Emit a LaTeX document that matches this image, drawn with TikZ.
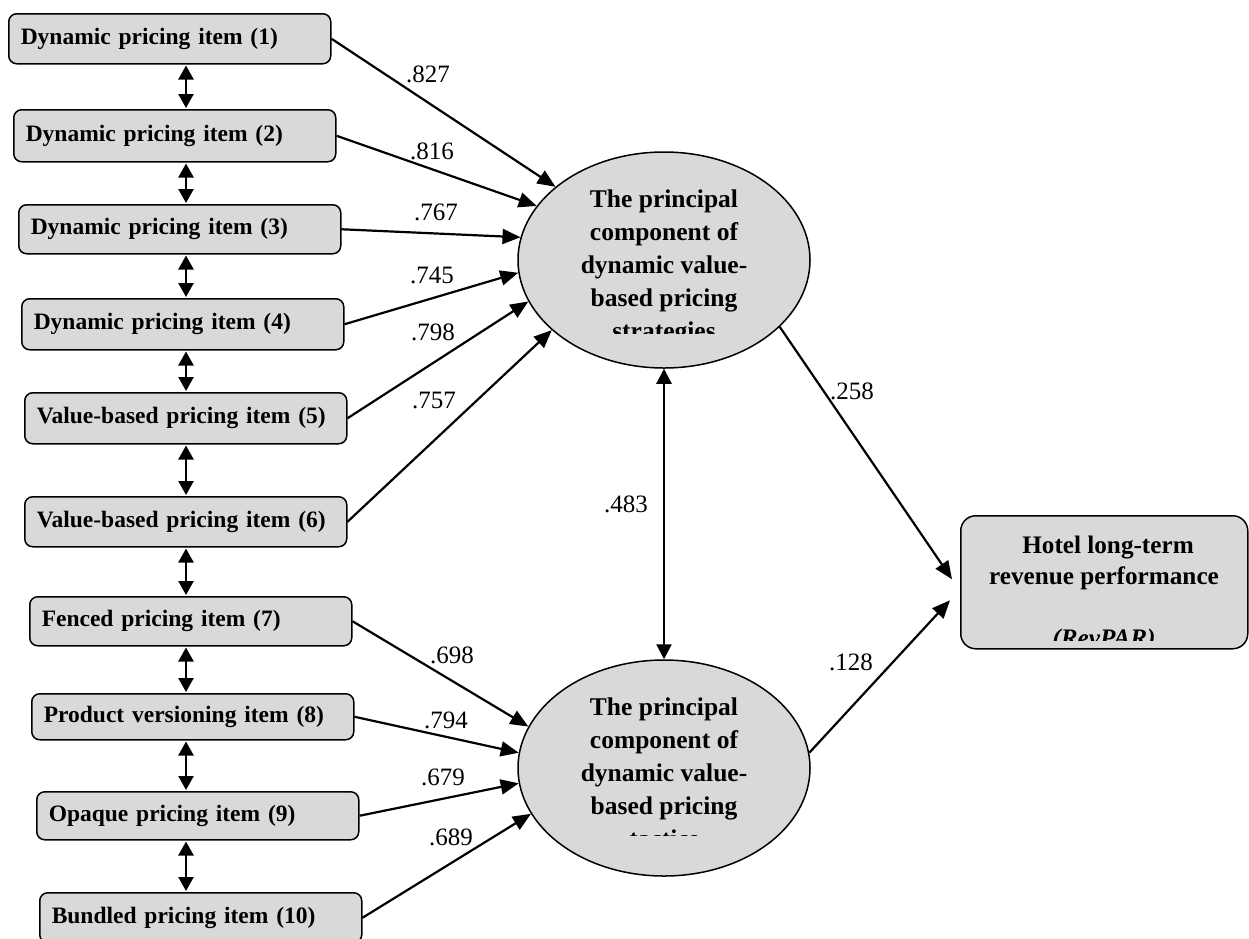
\documentclass[tikz,border=0pt]{standalone}
\usepackage{fontspec}
\setmainfont{Liberation Serif}
\usetikzlibrary{arrows.meta,shapes.geometric,calc}
\definecolor{boxgray}{HTML}{D9D9D9}
\tikzset{
 itembox/.style={draw, fill=boxgray, line width=1.5pt, rounded corners=8pt, minimum width=322pt, text width=298pt, inner xsep=12pt, inner ysep=0pt, align=left, anchor=north west, font=\fontsize{23.5}{28}\selectfont\bfseries},
 construct/.style={draw, fill=boxgray, ellipse, line width=1.5pt, minimum width=292pt, minimum height=216pt, inner sep=0pt},
 outcome/.style={draw, fill=boxgray, rounded corners=15pt, line width=1.5pt, minimum width=287pt, minimum height=133pt, inner sep=0pt, anchor=north west},
 eltext/.style={anchor=base, inner sep=0pt, font=\fontsize{25.5}{30}\selectfont\bfseries},
 hbtext/.style={anchor=base, inner sep=0pt, font=\fontsize{25.2}{30}\selectfont\bfseries},
 coef/.style={inner sep=0pt, font=\fontsize{25}{30}\selectfont},
 loadarrow/.style={line width=2.2pt, -{Triangle[length=18pt,width=15pt]}},
 corrarrow/.style={line width=2.4pt, {Triangle[length=14pt,width=15pt]}-{Triangle[length=14pt,width=15pt]}, shorten <=1pt, shorten >=1pt},
 bigcorr/.style={line width=2.2pt, {Triangle[length=15pt,width=15pt]}-{Triangle[length=15pt,width=15pt]}},
}
\begin{document}
\begin{tikzpicture}[x=1pt,y=-1pt]
\useasboundingbox (0,0) rectangle (1249,938);
\clip (0,0) rectangle (1249,938);

% indicator boxes
\node[itembox, minimum height=50pt] (b1) at (8,13) {Dynamic pricing item (1)};
\node[itembox, minimum height=52pt] (b2) at (13,109) {Dynamic pricing item (2)};
\node[itembox, minimum height=49pt] (b3) at (18,204) {Dynamic pricing item (3)};
\node[itembox, minimum height=51pt] (b4) at (21,298) {Dynamic pricing item (4)};
\node[itembox, minimum height=51pt] (b5) at (24,392) {Value-based pricing item (5)};
\node[itembox, minimum height=50pt] (b6) at (24,496) {Value-based pricing item (6)};
\node[itembox, minimum height=49pt] (b7) at (29,596) {Fenced pricing item (7)};
\node[itembox, minimum height=46pt] (b8) at (31,693) {Product versioning item (8)};
\node[itembox, minimum height=48pt] (b9) at (36,791) {Opaque pricing item (9)};
\node[itembox, minimum height=50pt] (b10) at (39,892) {Bundled pricing item (10)};

% correlations between indicators
\coordinate (ax) at (186,0);
\foreach \a/\b in {b1/b2,b2/b3,b3/b4,b4/b5,b5/b6,b6/b7,b7/b8,b8/b9,b9/b10}
  \draw[corrarrow] (\a.south -| ax) -- (\b.north -| ax);

% constructs
\node[construct] (e1) at (664,260) {};
\node[construct] (e2) at (664,768) {};
\node[outcome] (hb) at (960,515) {};

\begin{scope}
\clip (520,150) rectangle (810,333);
\node[eltext] (e1a) at (664,207) {The principal};
\node[eltext] (e1b) at (664,240) {component of};
\node[eltext] (e1c) at (664,273) {dynamic value-};
\node[eltext] (e1d) at (664,306) {based pricing};
\node[eltext] (e1e) at (664,339) {strategies};
\end{scope}

\begin{scope}
\clip (520,660) rectangle (810,835.5);
\node[eltext] (e2a) at (664,715) {The principal};
\node[eltext] (e2b) at (664,748) {component of};
\node[eltext] (e2c) at (664,781) {dynamic value-};
\node[eltext] (e2d) at (664,814) {based pricing};
\node[eltext] (e2e) at (664,847) {tactics};
\end{scope}

\begin{scope}
\clip (962,517) rectangle (1245,640);
\node[hbtext] (hba) at (1108,553) {Hotel long-term};
\node[hbtext] (hbb) at (1104,584) {revenue performance};
\node[hbtext, font=\fontsize{25.2}{30}\selectfont\bfseries\itshape] (hbc) at (1104,646) {(RevPAR)};
\end{scope}

% loadings
\draw[loadarrow] (b1.east) -- (e1.146);
\draw[loadarrow] (b2.east) -- (e1.157);
\draw[loadarrow] (b3.east) -- (e1.171);
\draw[loadarrow] (b4.east) -- (e1.185);
\draw[loadarrow] (b5.east) -- (e1.197);
\draw[loadarrow] (b6.east) -- (e1.212);
\draw[loadarrow] (b7.east) -- (e2.163);
\draw[loadarrow] (b8.east) -- (e2.174);
\draw[loadarrow] (b9.east) -- (e2.186);
\draw[loadarrow] (b10.east) -- (e2.199);

% structural paths
\draw[bigcorr] (e1.south) -- (e2.north);
\draw[loadarrow] (e1.-30) -- ($(hb.west)+(-8,-3)$);
\draw[loadarrow] (e2.6) -- ($(hb.west)+(-10,18)$);

% coefficients
\node[coef] (c1) at (428,74) {.827};
\node[coef] (c2) at (432,151) {.816};
\node[coef] (c3) at (436,212) {.767};
\node[coef] (c4) at (432,275) {.745};
\node[coef] (c5) at (433,332) {.798};
\node[coef] (c6) at (434,400) {.757};
\node[coef] (c7) at (452,655) {.698};
\node[coef] (c8) at (446,720) {.794};
\node[coef] (c9) at (443,777) {.679};
\node[coef] (c10) at (451,837) {.689};
\node[coef] (c11) at (626,504) {.483};
\node[coef] (c12) at (852,391) {.258};
\node[coef] (c13) at (851,662) {.128};
\end{tikzpicture}
\end{document}
